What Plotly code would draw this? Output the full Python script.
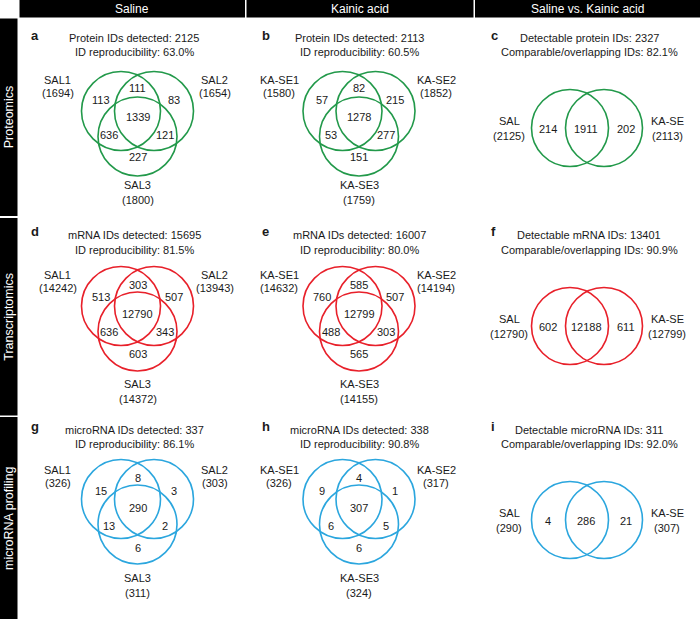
import plotly.graph_objects as go

# ---------------- data ----------------
row_names = ["Proteomics", "Transcriptomics", "microRNA profiling"]
col_headers = ["Saline", "Kainic acid", "Saline vs. Kainic acid"]
panel_letters = [["a", "b", "c"], ["d", "e", "f"], ["g", "h", "i"]]
id_kind_cap = ["Protein", "mRNA", "microRNA"]
id_kind_lc = ["protein", "mRNA", "microRNA"]

sal_sets = ["SAL1", "SAL2", "SAL3"]
ka_sets = ["KA-SE1", "KA-SE2", "KA-SE3"]
pair_sets = ["SAL", "KA-SE"]

# region order: only1, only2, only3, 1&2, 1&3, 2&3, all three
sal_regions = [[113, 83, 227, 111, 636, 121, 1339],
               [513, 507, 603, 303, 636, 343, 12790],
               [15, 3, 6, 8, 13, 2, 290]]
sal_totals = [[1694, 1654, 1800], [14242, 13943, 14372], [326, 303, 311]]
sal_detected = [2125, 15695, 337]
sal_repro = [63.0, 81.5, 86.1]

ka_regions = [[57, 215, 151, 82, 53, 277, 1278],
              [760, 507, 565, 585, 488, 303, 12799],
              [9, 1, 6, 4, 6, 5, 307]]
ka_totals = [[1580, 1852, 1759], [14632, 14194, 14155], [326, 317, 324]]
ka_detected = [2113, 16007, 338]
ka_repro = [60.5, 80.0, 90.8]

# region order: only SAL, both, only KA-SE
cmp_regions = [[214, 1911, 202], [602, 12188, 611], [4, 286, 21]]
cmp_totals = [[2125, 2113], [12790, 12799], [290, 307]]
cmp_detectable = [2327, 13401, 311]
cmp_overlap = [82.1, 90.9, 92.0]

# ---------------- layout constants ----------------
W, H = 700, 619
FONT = "Arial, Liberation Sans, sans-serif"
TXT = "#1a1a1a"
FS = 11
row_colors = ["#22994a", "#e8202a", "#2ba6de"]
col_gx = [137.5, 359.0, 587.0]
title_x = [134.0, 359.0, 589.0]
title_y1 = [38.0, 235.0, 429.5]
title_y2 = [52.0, 249.5, 443.5]
row_gy3 = [111.0, 306.0, 499.0]
row_gy2 = [128.0, 326.0, 520.0]
reg_shift = [0.0, 2.0, 2.5]      # vertical text shift for region counts per row
lab3_shift = [0.0, 4.0, 5.5]     # vertical shift for bottom set label per row
lab12_shift = [0.0, 0.0, 1.5]
letter_x = [29.0, 260.0, 489.0]
letter_y = [35.0, 231.0, 426.0]
R3 = 39.5
R2 = 38.5

tri_circ = [(-16.5, 0.0), (16.5, 0.0), (0.0, 25.5)]
tri_reg = [(-37, -11), (36, -11), (0, 46), (0, -23.5), (-28.5, 24), (27, 24), (0, 6)]
tri_lab = [(-80, -31, -18), (77, -31, -18), (0, 73.5, 88.5)]
pair_circ = [(-17.0, 0.0), (17.0, 0.0)]
pair_reg = [(-39, 0.5), (-1, 0.5), (39, 0.5)]
pair_lab = [(-78, -7, 8), (80, -7, 8)]

fig = go.Figure()
shapes = []
annotations = []


def text(x, y, s, size=FS, color=TXT, bold=False, xanchor="center", angle=0):
    if bold:
        s = "<b>" + s + "</b>"
    annotations.append(dict(x=x, y=y, xref="x", yref="y", text=s, showarrow=False,
                            xanchor=xanchor, yanchor="middle", textangle=angle,
                            font=dict(family=FONT, size=size, color=color)))


def circle(cx, cy, r, color):
    shapes.append(dict(type="circle", xref="x", yref="y", x0=cx - r, x1=cx + r,
                       y0=cy - r, y1=cy + r, line=dict(color=color, width=1.6),
                       fillcolor="rgba(0,0,0,0)"))


def rect(x0, y0, x1, y1, color):
    shapes.append(dict(type="rect", xref="x", yref="y", x0=x0, x1=x1, y0=y0, y1=y1,
                       line=dict(width=0), fillcolor=color, layer="below"))


# header
col_bounds = [(19.5, 245.0), (246.5, 473.5), (475.0, 700.0)]
for (x0, x1), name in zip(col_bounds, col_headers):
    rect(x0, 0, x1, 17.5, "black")
    text((x0 + x1) / 2, 9, name, size=12, color="white")

# side bar
row_bounds = [(18.5, 216.0), (218.0, 415.5), (417.0, 619.0)]
for (y0, y1), name in zip(row_bounds, row_names):
    rect(0, y0, 17.5, y1, "black")
    text(9, (y0 + y1) / 2, name, size=12.5, color="white", angle=-90)

for r in range(3):
    col = row_colors[r]
    # triple venns (Saline, Kainic acid)
    for c, (regions, totals, sets, detected, repro) in enumerate([
            (sal_regions[r], sal_totals[r], sal_sets, sal_detected[r], sal_repro[r]),
            (ka_regions[r], ka_totals[r], ka_sets, ka_detected[r], ka_repro[r])]):
        gx, gy = col_gx[c], row_gy3[r]
        text(letter_x[c], letter_y[r], panel_letters[r][c], size=13, bold=True, xanchor="left")
        text(title_x[c], title_y1[r], f"{id_kind_cap[r]} IDs detected: {detected}")
        text(title_x[c], title_y2[r], f"ID reproducibility: {repro:.1f}%")
        for dx, dy in tri_circ:
            circle(gx + dx, gy + dy, R3, col)
        for (dx, dy), v in zip(tri_reg, regions):
            text(gx + dx, gy + dy + reg_shift[r], str(v))
        for k, ((dx, dy1, dy2), nm, t) in enumerate(zip(tri_lab, sets, totals)):
            sh = lab3_shift[r] if k == 2 else lab12_shift[r]
            text(gx + dx, gy + dy1 + sh, nm)
            text(gx + dx, gy + dy2 + sh, f"({t})")
    # pairwise venn
    c = 2
    gx, gy = col_gx[c], row_gy2[r]
    text(letter_x[c], letter_y[r], panel_letters[r][c], size=13, bold=True, xanchor="left")
    text(title_x[c], title_y1[r], f"Detectable {id_kind_lc[r]} IDs: {cmp_detectable[r]}")
    text(title_x[c], title_y2[r], f"Comparable/overlapping IDs: {cmp_overlap[r]:.1f}%")
    for dx, dy in pair_circ:
        circle(gx + dx, gy + dy, R2, col)
    for (dx, dy), v in zip(pair_reg, cmp_regions[r]):
        text(gx + dx, gy + dy, str(v))
    for (dx, dy1, dy2), nm, t in zip(pair_lab, pair_sets, cmp_totals[r]):
        text(gx + dx, gy + dy1, nm)
        text(gx + dx, gy + dy2, f"({t})")

fig.update_layout(
    width=W, height=H, margin=dict(l=0, r=0, t=0, b=0),
    paper_bgcolor="white", plot_bgcolor="white",
    xaxis=dict(range=[0, W], visible=False, fixedrange=True),
    yaxis=dict(range=[H, 0], visible=False, fixedrange=True),
    shapes=shapes, annotations=annotations, showlegend=False,
)
fig.write_html(
    "out.html",
    config={"displayModeBar": False},
    post_script="document.body.style.margin='0';document.body.style.overflow='hidden';",
)
